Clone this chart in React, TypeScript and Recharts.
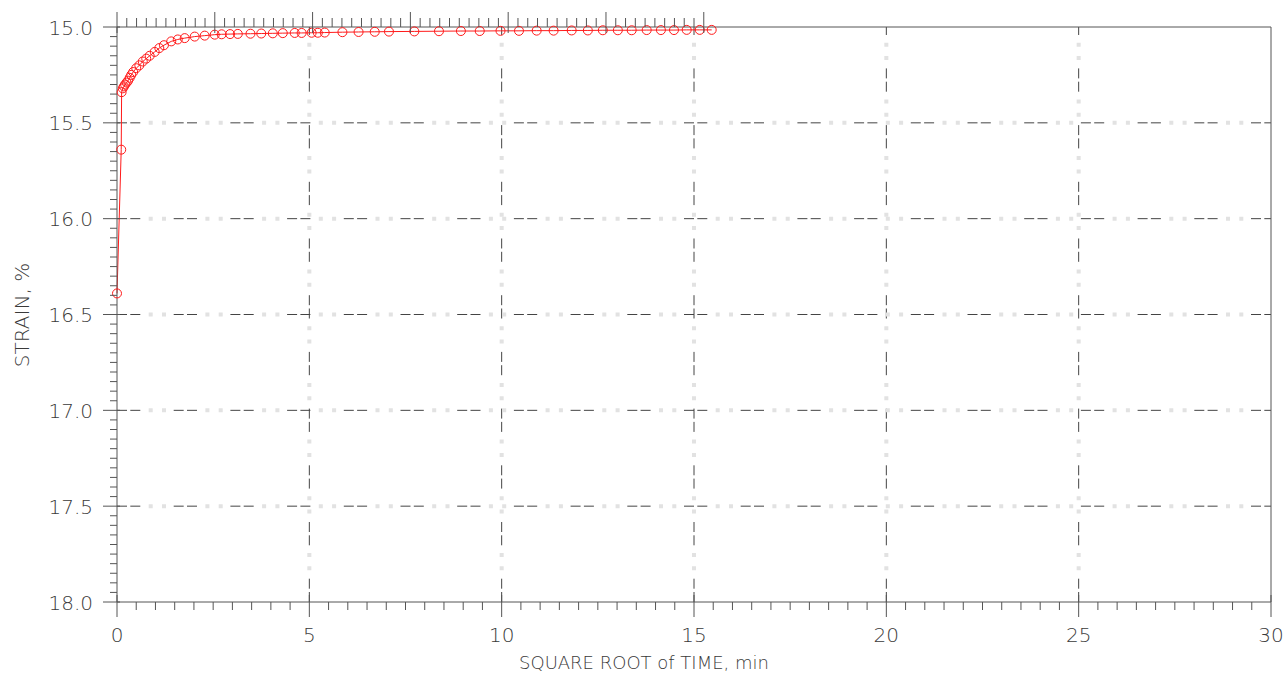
import { LineChart, Line, XAxis, YAxis, ReferenceLine, Label } from 'recharts';

// square root of time (min^0.5) and strain (%)
const sqrtTime = [
  0, 0.11, 0.12, 0.15, 0.18, 0.21, 0.25, 0.29, 0.33, 0.37, 0.42, 0.5, 0.58, 0.67, 0.76, 0.85,
  0.98, 1.1, 1.22, 1.41, 1.58, 1.76, 2.02, 2.28, 2.54, 2.72, 2.94, 3.14, 3.47, 3.75, 4.05,
  4.31, 4.62, 4.8, 5.06, 5.22, 5.4, 5.86, 6.28, 6.7, 7.07, 7.73, 8.37, 8.94, 9.43, 9.97,
  10.45, 10.91, 11.35, 11.82, 12.24, 12.63, 13.02, 13.38, 13.77, 14.14, 14.48, 14.81, 15.15, 15.46,
];
const strain = [
  16.39, 15.64, 15.34, 15.32, 15.31, 15.3, 15.29, 15.28, 15.265, 15.25, 15.235, 15.215, 15.2, 15.18, 15.165, 15.15,
  15.13, 15.11, 15.095, 15.075, 15.065, 15.058, 15.05, 15.045, 15.04, 15.038, 15.037, 15.036, 15.035, 15.034, 15.033,
  15.032, 15.031, 15.031, 15.03, 15.03, 15.029, 15.027, 15.026, 15.025, 15.024, 15.023, 15.022, 15.021, 15.021, 15.02,
  15.02, 15.019, 15.019, 15.018, 15.018, 15.017, 15.017, 15.017, 15.016, 15.016, 15.016, 15.015, 15.015, 15.015,
];

const xMajor = [0, 5, 10, 15, 20, 25, 30];
const yMajor = [15.0, 15.5, 16.0, 16.5, 17.0, 17.5, 18.0];
const xGrid = [5, 10, 15, 20, 25];
const yGrid = [15.5, 16.0, 16.5, 17.0, 17.5];

const data = sqrtTime.map((x, i) => ({ x, strain: strain[i] }));

// minor ticks: every 0.5 on x, every 0.05 on y
const xTicks = Array.from({ length: 61 }, (_, i) => i / 2);
const yTicks = Array.from({ length: 61 }, (_, i) => Math.round(1500 + i * 5) / 100);

const isMajor = (v: number, list: number[]) => list.some((m) => Math.abs(m - v) < 1e-6);

const AXIS = '#555';
const TEXT = '#3a3a3a';
const FONT = 'DejaVu Sans';
const RED = '#ff1a1a';

const BottomTick = ({ x, y, payload }: any) => {
  const major = isMajor(payload.value, xMajor);
  return (
    <g>
      <line x1={x} x2={x} y1={major ? y - 7 : y} y2={major ? y + 15 : y + 8} stroke={AXIS} />
      {major && (
        <text x={x} y={y + 40} textAnchor="middle" fill={TEXT} fontSize={20} fontFamily={FONT} fontWeight={200}>
          {payload.value}
        </text>
      )}
    </g>
  );
};

const TopTick = ({ x, y, payload }: any) => {
  const major = isMajor(payload.value, xMajor);
  return <line x1={x} x2={x} y1={major ? y + 6 : y} y2={major ? y - 15 : y - 9} stroke={AXIS} />;
};

const LeftTick = ({ x, y, payload }: any) => {
  const major = isMajor(payload.value, yMajor);
  return (
    <g>
      <line x1={major ? x + 3 : x} x2={major ? x - 14 : x - 7} y1={y} y2={y} stroke={AXIS} />
      {major && (
        <text x={x - 24} y={y + 7.5} textAnchor="end" fill={TEXT} fontSize={20} fontFamily={FONT} fontWeight={200}>
          {payload.value.toFixed(1)}
        </text>
      )}
    </g>
  );
};

const RightTick = ({ x, y, payload }: any) => {
  const major = isMajor(payload.value, yMajor);
  return <line x1={major ? x - 7 : x} x2={major ? x + 14 : x + 7} y1={y} y2={y} stroke={AXIS} />;
};

const gridDark = { stroke: '#444', strokeWidth: 1, strokeDasharray: '10 3.3 10 33.4' };
const gridLight = { stroke: '#e2e2e2', strokeWidth: 4, strokeDasharray: '0 31.7 4 9.3 4 7.7' };

export default function App() {
  return (
    <div style={{ position: 'absolute', left: 0, top: 0, background: '#fff' }}>
      <LineChart width={1287} height={677} data={data} margin={{ top: 0, right: 0, bottom: 0, left: 0 }}>
        <XAxis
          dataKey="x"
          type="number"
          domain={[0, 30]}
          ticks={xTicks}
          interval={0}
          tickSize={0}
          tickMargin={0}
          height={75}
          axisLine={{ stroke: AXIS }}
          tickLine={false}
          tick={(p: any) => <BottomTick {...p} />}
        >
          <Label
            content={() => (
              <text x={644} y={669} textAnchor="middle" fill={TEXT} fontSize={18} fontFamily={FONT} fontWeight={200}>
                SQUARE ROOT of TIME, min
              </text>
            )}
          />
        </XAxis>
        <XAxis
          xAxisId="top"
          orientation="top"
          type="number"
          domain={[0, 30]}
          ticks={xTicks}
          interval={0}
          tickSize={0}
          tickMargin={0}
          height={27}
          axisLine={{ stroke: AXIS }}
          tickLine={false}
          tick={(p: any) => <TopTick {...p} />}
        />
        <YAxis
          yAxisId="left"
          type="number"
          domain={[15, 18]}
          reversed
          ticks={yTicks}
          interval={0}
          tickSize={0}
          tickMargin={0}
          width={117}
          axisLine={{ stroke: AXIS }}
          tickLine={false}
          tick={(p: any) => <LeftTick {...p} />}
        >
          <Label
            content={() => (
              <text
                x={22}
                y={315}
                transform="rotate(-90, 22, 315)"
                textAnchor="middle"
                dominantBaseline="central"
                fill={TEXT}
                fontSize={20}
                fontFamily={FONT}
                fontWeight={200}
              >
                STRAIN, %
              </text>
            )}
          />
        </YAxis>
        <YAxis
          yAxisId="right"
          orientation="right"
          type="number"
          domain={[15, 18]}
          reversed
          ticks={yTicks}
          interval={0}
          tickSize={0}
          tickMargin={0}
          width={16}
          axisLine={{ stroke: AXIS }}
          tickLine={false}
          tick={(p: any) => <RightTick {...p} />}
        />
        {xGrid.map((v) => (
          <ReferenceLine key={`xl${v}`} x={v} yAxisId="left" {...gridLight} />
        ))}
        {xGrid.map((v) => (
          <ReferenceLine key={`xd${v}`} x={v} yAxisId="left" {...gridDark} />
        ))}
        {yGrid.map((v) => (
          <ReferenceLine key={`yl${v}`} y={v} yAxisId="left" {...gridLight} />
        ))}
        {yGrid.map((v) => (
          <ReferenceLine key={`yd${v}`} y={v} yAxisId="left" {...gridDark} />
        ))}
        <Line
          yAxisId="left"
          type="linear"
          dataKey="strain"
          stroke={RED}
          strokeWidth={1}
          dot={{ r: 4.5, stroke: RED, strokeWidth: 1, fill: 'none' }}
          isAnimationActive={false}
        />
      </LineChart>
    </div>
  );
}
